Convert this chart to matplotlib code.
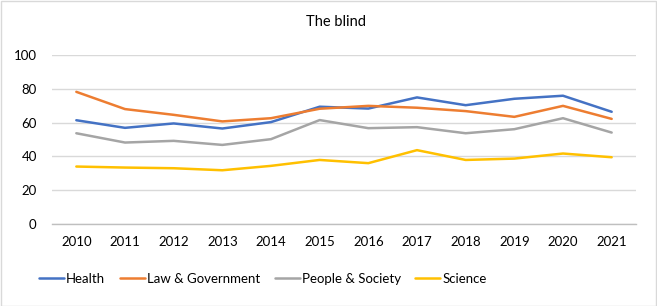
import matplotlib.pyplot as plt
from matplotlib.patches import Rectangle

years = ['2010', '2011', '2012', '2013', '2014', '2015', '2016', '2017', '2018', '2019', '2020', '2021']
health = [61.4, 56.9, 59.5, 56.5, 60.3, 69.4, 68.3, 74.9, 70.3, 74.1, 75.9, 66.4]
law_gov = [78.2, 68.0, 64.6, 60.7, 62.6, 68.2, 69.9, 68.8, 66.8, 63.4, 69.9, 62.2]
people_society = [53.7, 48.2, 49.2, 46.8, 50.2, 61.5, 56.7, 57.3, 53.7, 56.1, 62.6, 54.1]
science = [34.0, 33.4, 33.0, 31.8, 34.4, 37.9, 36.0, 43.7, 37.9, 38.7, 41.7, 39.5]

series = [
    ('Health', health, '#4472C4'),
    ('Law & Government', law_gov, '#ED7D31'),
    ('People & Society', people_society, '#A5A5A5'),
    ('Science', science, '#FFC000'),
]

plt.rcParams['font.family'] = ['Lato', 'DejaVu Sans']

W, H = 657, 306
fig = plt.figure(figsize=(W / 100, H / 100), dpi=100)
ax = fig.add_axes([52 / W, 1 - 224 / H, (636 - 52) / W, (224 - 55) / H])

x = list(range(len(years)))
for name, vals, color in series:
    ax.plot(x, vals, color=color, lw=1.8, label=name, solid_capstyle='round')

ax.set_xlim(-0.5, len(years) - 0.5)
ax.set_ylim(0, 100)
ax.set_yticks(range(0, 101, 20))
ax.set_xticks(x)
ax.set_xticklabels(years)
ax.grid(axis='y', color='#D9D9D9', lw=1)
ax.set_axisbelow(True)
for s in ['top', 'right', 'left']:
    ax.spines[s].set_visible(False)
ax.spines['bottom'].set_color('#BFBFBF')
ax.spines['bottom'].set_linewidth(1)
ax.tick_params(length=0, labelsize=9.5, colors='#000000')
ax.tick_params(axis='x', pad=9)
ax.tick_params(axis='y', pad=11)

fig.text(336 / W, 1 - 22 / H, 'The blind', ha='center', va='center', fontsize=10.5)

fig.legend(loc='center', bbox_to_anchor=(263 / W, 1 - 279 / H), ncol=4, frameon=False,
           fontsize=9.5, handlelength=1.9, handletextpad=0.15, columnspacing=1.1)

fig.patches.append(Rectangle((0.5 / W, 0.5 / H), 1 - 1.5 / W, 1 - 1.5 / H, transform=fig.transFigure,
                             fill=False, edgecolor='#D9D9D9', lw=1))

fig.savefig('out.png', dpi=100)
